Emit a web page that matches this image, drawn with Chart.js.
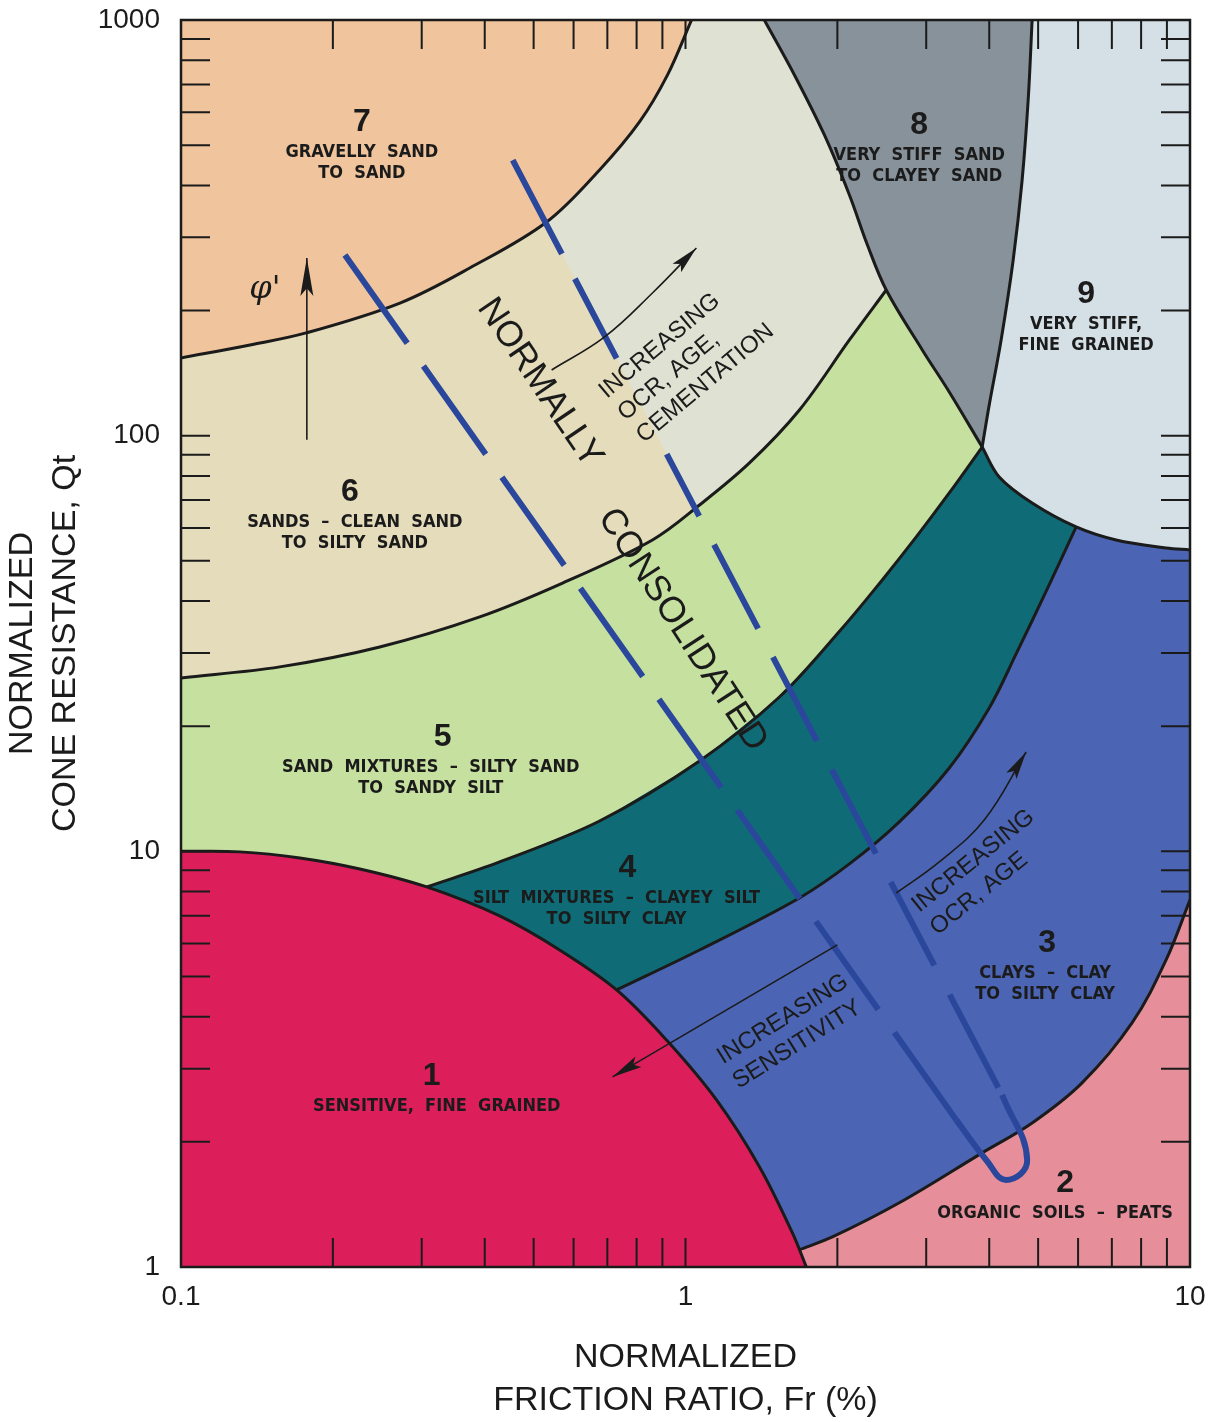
<!DOCTYPE html>
<html>
<head>
<meta charset="utf-8">
<script src="https://cdn.jsdelivr.net/npm/chart.js@4.4.1/dist/chart.umd.min.js"></script>
<style>
  html, body { margin: 0; padding: 0; background: #fff; }
  canvas { display: block; }
</style>
</head>
<body>
<canvas id="sbtChart" width="1210" height="1422"></canvas>
<script>
// ---- axes ----
const xTickLabels = [0.1, 1, 10];
const yTickLabels = [1, 10, 100, 1000];
const xMinorTicks = [0.2, 0.3, 0.4, 0.5, 0.6, 0.7, 0.8, 0.9, 1, 2, 3, 4, 5, 6, 7, 8, 9];
const yMinorTicks = [2, 3, 4, 5, 6, 7, 8, 9, 10, 20, 30, 40, 50, 60, 70, 80, 90, 100,
                     200, 300, 400, 500, 600, 700, 800, 900];

// ---- zone boundaries, [Fr (%), Qt] ----
const b67 = [[0.1, 153.8], [0.137, 165.3], [0.177, 176.7], [0.2716, 208.5], [0.3735, 253.2],
             [0.5306, 326.7], [0.6755, 435.8], [0.8106, 568.5], [0.9213, 737.6], [1.028, 1000]];
const b56 = [[0.1, 26.13], [0.157, 27.78], [0.2477, 31.02], [0.391, 36.65], [0.5706, 44.2],
             [0.86, 56.12], [1.066, 68.1], [1.339, 85.98], [1.682, 115.3], [2.113, 169.9], [2.5, 224.1]];
const b8 = [[1.433, 1000], [1.644, 737.6], [1.885, 528.9], [2.113, 379.3], [2.294, 287.6],
            [2.5, 224.1], [2.947, 160.8], [3.333, 127.4], [3.873, 93.9]];
const b9 = [[4.865, 1000], [4.778, 642.2], [4.648, 412.2], [4.462, 264.6], [4.223, 169.9],
            [4.0, 118.6], [3.873, 93.9]];
const b9b = [[3.873, 93.9], [4.186, 79.55], [4.865, 68.87], [5.948, 60.32], [7.137, 56.12],
             [8.966, 53.7], [10, 53.1]];
const b45 = [[0.307, 8.21], [0.4281, 9.43], [0.6755, 11.83], [1.066, 16.5], [1.535, 23.51],
             [2.046, 34.46], [2.455, 44.97], [2.867, 57.06], [3.333, 72.8], [3.873, 93.9]];
const b34 = [[0.7302, 4.641], [1.066, 5.79], [1.682, 7.725], [2.113, 9.327], [2.653, 11.77],
             [3.333, 15.87], [4.0, 22.13], [4.522, 29.85], [5.258, 43.74], [5.948, 60.32]];
const b1 = [[0.1, 10], [0.1309, 9.97], [0.172, 9.64], [0.2262, 9.07], [0.307, 8.21], [0.4281, 6.99],
            [0.5629, 5.79], [0.7302, 4.641], [0.917, 3.516], [1.152, 2.523], [1.402, 1.741],
            [1.629, 1.208], [1.736, 1]];
const b23 = [[1.68, 1.1], [1.955, 1.181], [2.653, 1.427], [3.873, 1.882], [4.865, 2.221],
             [6.11, 2.773], [7.675, 3.865], [8.966, 5.478], [10, 7.64]];

// normally consolidated band (dashed)
const ncLeft = [[0.2113, 272.0], [3.44, 2.259]];
const ncBend = [[3.44, 2.259], [3.945, 1.809], [4.321, 1.62], [4.756, 1.809], [4.243, 2.594]];
const ncRight = [[0.4545, 460.4], [4.243, 2.594]];

// trend arrows
const phiArrow = [[0.1776, 97.7], [0.1776, 267.6]];
const ocrArrowUpper = [[0.5428, 143.9], [0.6914, 172.8], [0.86, 220.4], [1.051, 282.8]];
const ocrArrowLower = [[2.617, 7.94], [3.184, 9.43], [3.909, 11.9], [4.733, 17.34]];
const sensitivityArrow = [[2.0, 5.955], [0.7167, 2.866]];

const last = a => a[a.length - 1];
const xy = a => a.map(([x, y]) => ({x, y}));

// zones, painted bottom to top
const zones = [
  ['#dfe2d2', [[0.1, 1], [10, 1], [10, 1000], [0.1, 1000]]],
  ['#e4dcba', [[0.1, 1000], [ncRight[0][0], 1000], ncRight[0], ncRight[1], [ncRight[1][0], 1], [0.1, 1]]],
  ['#f0c59d', [[0.1, 1000], ...b67]],
  ['#c6e0a0', [...b56, [10, last(b56)[1]], [10, 1], [0.1, 1]]],
  ['#87929a', [...b8, [10, last(b8)[1]], [10, 1000]]],
  ['#d4e0e6', [...b9, ...b9b.slice(1), [10, 1000]]],
  ['#0f6c76', [...b45, ...b9b.slice(1), [10, 1], [b45[0][0], 1]]],
  ['#4b65b4', [...b34, ...b9b.filter(p => p[0] > last(b34)[0]), [10, 1], [b34[0][0], 1]]],
  ['#e68f9a', [...b23, [10, 1], [b23[0][0], 1]]],
  ['#dc1f5b', [...b1, [0.1, 1]]]
];

const boundaries = [b67, b56, b8, b9, b9b, b45, b34, b1, b23];

const datasets = [];
zones.forEach(([color, poly]) => datasets.push({
  data: xy(poly), showLine: true, fill: 'shape', backgroundColor: color,
  borderWidth: 0, tension: 0, pointRadius: 0
}));
boundaries.forEach(b => datasets.push({
  data: xy(b), showLine: true, fill: false, borderColor: '#1b1b1b',
  borderWidth: 3, tension: 0.35, pointRadius: 0
}));
const ncColor = '#2a479c';
datasets.push({data: xy(ncLeft), showLine: true, borderColor: ncColor, borderWidth: 6,
  borderDash: [108, 28], tension: 0, pointRadius: 0, borderCapStyle: 'butt'});
// the right line is broken where the OCR note crosses it
datasets.push({data: xy(ncRight), showLine: true, borderColor: ncColor, borderWidth: 6,
  borderDash: [106, 28, 90, 108, 70, 32, 95, 32, 95, 32, 95, 32, 94, 33, 105, 40],
  tension: 0, pointRadius: 0, borderCapStyle: 'butt'});
datasets.push({data: xy(ncBend), showLine: true, borderColor: ncColor, borderWidth: 6,
  tension: 0.45, pointRadius: 0});
[[phiArrow, [38, 13]], [ocrArrowUpper, [28, 12]], [ocrArrowLower, [28, 12]], [sensitivityArrow, [30, 12]]]
  .forEach(([a, head]) => datasets.push({
    data: xy(a), showLine: true, borderColor: '#1b1b1b', borderWidth: 1.6,
    tension: a.length > 2 ? 0.4 : 0, pointRadius: 0, head: head
  }));
datasets.forEach((d, i) => { d.order = -i; });

// zone labels: number position, text lines below it
const zoneLabels = [
  {num: '7', text: ['GRAVELLY  SAND', 'TO  SAND'], at: [0.2283, 568.5], dx: 0},
  {num: '8', text: ['VERY  STIFF  SAND', 'TO  CLAYEY  SAND'], at: [2.906, 559.1], dx: 0},
  {num: '9', text: ['VERY  STIFF,', 'FINE  GRAINED'], at: [6.223, 219.2], dx: 0},
  {num: '6', text: ['SANDS  –  CLEAN  SAND', 'TO  SILTY  SAND'], at: [0.2161, 73.2], dx: 5},
  {num: '5', text: ['SAND  MIXTURES  –  SILTY  SAND', 'TO  SANDY  SILT'], at: [0.3302, 18.85], dx: -12},
  {num: '4', text: ['SILT  MIXTURES  –  CLAYEY  SILT', 'TO  SILTY  CLAY'], at: [0.7675, 9.123], dx: -11},
  {num: '3', text: ['CLAYS  –  CLAY', 'TO  SILTY  CLAY'], at: [5.209, 6.021], dx: -2},
  {num: '1', text: ['SENSITIVE,  FINE  GRAINED'], at: [0.3141, 2.882], dx: 5},
  {num: '2', text: ['ORGANIC  SOILS  –  PEATS'], at: [5.654, 1.593], dx: -10}
];

// rotated notes
const notes = [
  {text: ['NORMALLY'], at: [0.5141, 133.9], angle: 56, size: 36, align: 'center', gap: 0},
  {text: ['CONSOLIDATED'], at: [0.9863, 34.09], angle: 57, size: 36, align: 'center', gap: 0},
  {text: ['INCREASING', 'OCR, AGE,', 'CEMENTATION'], at: [0.6846, 126.0], angle: -40, size: 24, align: 'left', gap: 29},
  {text: ['INCREASING', 'OCR, AGE'], at: [2.853, 7.307], angle: -39, size: 24, align: 'left', gap: 29},
  {text: ['INCREASING', 'SENSITIVITY'], at: [1.168, 3.167], angle: -32, size: 24, align: 'left', gap: 29}
];

const INK = '#1b1b1b';
const narrow = '"Liberation Sans Narrow", "DejaVu Sans Condensed", "Liberation Sans", sans-serif';

const decor = {
  id: 'decor',
  afterDatasetsDraw(chart) {
    const {ctx, chartArea: a, scales: {x, y}} = chart;
    const P = ([fx, fy]) => [x.getPixelForValue(fx), y.getPixelForValue(fy)];
    ctx.save();

    // arrow heads
    chart.data.datasets.forEach((ds, i) => {
      if (!ds.head) return;
      const pts = chart.getDatasetMeta(i).data;
      const tip = pts[pts.length - 1];
      const from = ds.tension ? {x: tip.cp1x, y: tip.cp1y} : pts[pts.length - 2];
      const ang = Math.atan2(tip.y - from.y, tip.x - from.x);
      const [len, wid] = ds.head;
      ctx.save();
      ctx.translate(tip.x, tip.y);
      ctx.rotate(ang);
      ctx.fillStyle = INK;
      ctx.beginPath();
      ctx.moveTo(0, 0);
      ctx.lineTo(-len, wid / 2);
      ctx.lineTo(-len * 0.8, 0);
      ctx.lineTo(-len, -wid / 2);
      ctx.closePath();
      ctx.fill();
      ctx.restore();
    });

    // inward ticks on all four sides
    const T = 29;
    ctx.strokeStyle = INK;
    ctx.lineWidth = 2;
    ctx.beginPath();
    xMinorTicks.forEach(v => {
      const p = x.getPixelForValue(v);
      ctx.moveTo(p, a.bottom); ctx.lineTo(p, a.bottom - T);
      ctx.moveTo(p, a.top); ctx.lineTo(p, a.top + T);
    });
    yMinorTicks.forEach(v => {
      const p = y.getPixelForValue(v);
      ctx.moveTo(a.left, p); ctx.lineTo(a.left + T, p);
      ctx.moveTo(a.right, p); ctx.lineTo(a.right - T, p);
    });
    ctx.stroke();
    ctx.lineWidth = 2.5;
    ctx.strokeRect(a.left, a.top, a.right - a.left, a.bottom - a.top);

    // zone labels
    ctx.fillStyle = INK;
    ctx.textAlign = 'center';
    ctx.textBaseline = 'middle';
    zoneLabels.forEach(z => {
      const [px, py] = P(z.at);
      ctx.font = 'bold 32px "Liberation Sans", Arial, sans-serif';
      ctx.fillText(z.num, px, py);
      ctx.font = 'bold 18px ' + narrow;
      z.text.forEach((t, k) => ctx.fillText(t, px + z.dx, py + 30 + k * 21));
    });

    // rotated notes
    notes.forEach(n => {
      const [px, py] = P(n.at);
      ctx.save();
      ctx.translate(px, py);
      ctx.rotate(n.angle * Math.PI / 180);
      ctx.font = n.size + 'px "Liberation Sans", Arial, sans-serif';
      ctx.textAlign = n.align;
      n.text.forEach((t, k) => ctx.fillText(t, 0, k * n.gap));
      ctx.restore();
    });

    // friction angle symbol
    const [fx, fy] = P([0.1467, 224.1]);
    ctx.font = 'italic 32px "DejaVu Serif", "Liberation Serif", serif';
    ctx.textAlign = 'center';
    ctx.fillText('φ\'', fx, fy);

    ctx.restore();
  }
};

const titleFont = {family: '"Liberation Sans", Arial, sans-serif', size: 34, lineHeight: 1.27};
const tickFont = {family: '"Liberation Sans", Arial, sans-serif', size: 28};

new Chart(document.getElementById('sbtChart'), {
  type: 'scatter',
  data: {datasets},
  plugins: [decor],
  options: {
    responsive: false,
    animation: false,
    events: [],
    devicePixelRatio: 1,
    layout: {padding: {top: 20, right: 20, bottom: 0, left: 0}},
    plugins: {legend: {display: false}, tooltip: {enabled: false}},
    scales: {
      x: {
        type: 'logarithmic', min: 0.1, max: 10, position: 'bottom',
        afterBuildTicks: s => { s.ticks = xTickLabels.map(v => ({value: v})); },
        afterFit: s => { s.height = 155; s.paddingLeft = 0; s.paddingRight = 0; },
        grid: {display: false, drawTicks: false},
        border: {display: false},
        ticks: {autoSkip: false, maxRotation: 0, minRotation: 0, padding: 13,
                color: INK, font: tickFont, callback: v => String(v)},
        title: {display: true, text: ['NORMALIZED', 'FRICTION RATIO, Fr (%)'], color: INK,
                font: titleFont, padding: {top: 0, bottom: 0}}
      },
      y: {
        type: 'logarithmic', min: 1, max: 1000,
        afterBuildTicks: s => { s.ticks = yTickLabels.map(v => ({value: v})); },
        afterFit: s => { s.width = 181; s.paddingTop = 0; s.paddingBottom = 0; },
        grid: {display: false, drawTicks: false},
        border: {display: false},
        ticks: {autoSkip: false, padding: 21, color: INK, font: tickFont, callback: v => String(v)},
        title: {display: true, text: ['NORMALIZED', 'CONE RESISTANCE, Qt'], color: INK,
                font: titleFont, padding: {top: 1, bottom: 0}}
      }
    }
  }
});
</script>
</body>
</html>
